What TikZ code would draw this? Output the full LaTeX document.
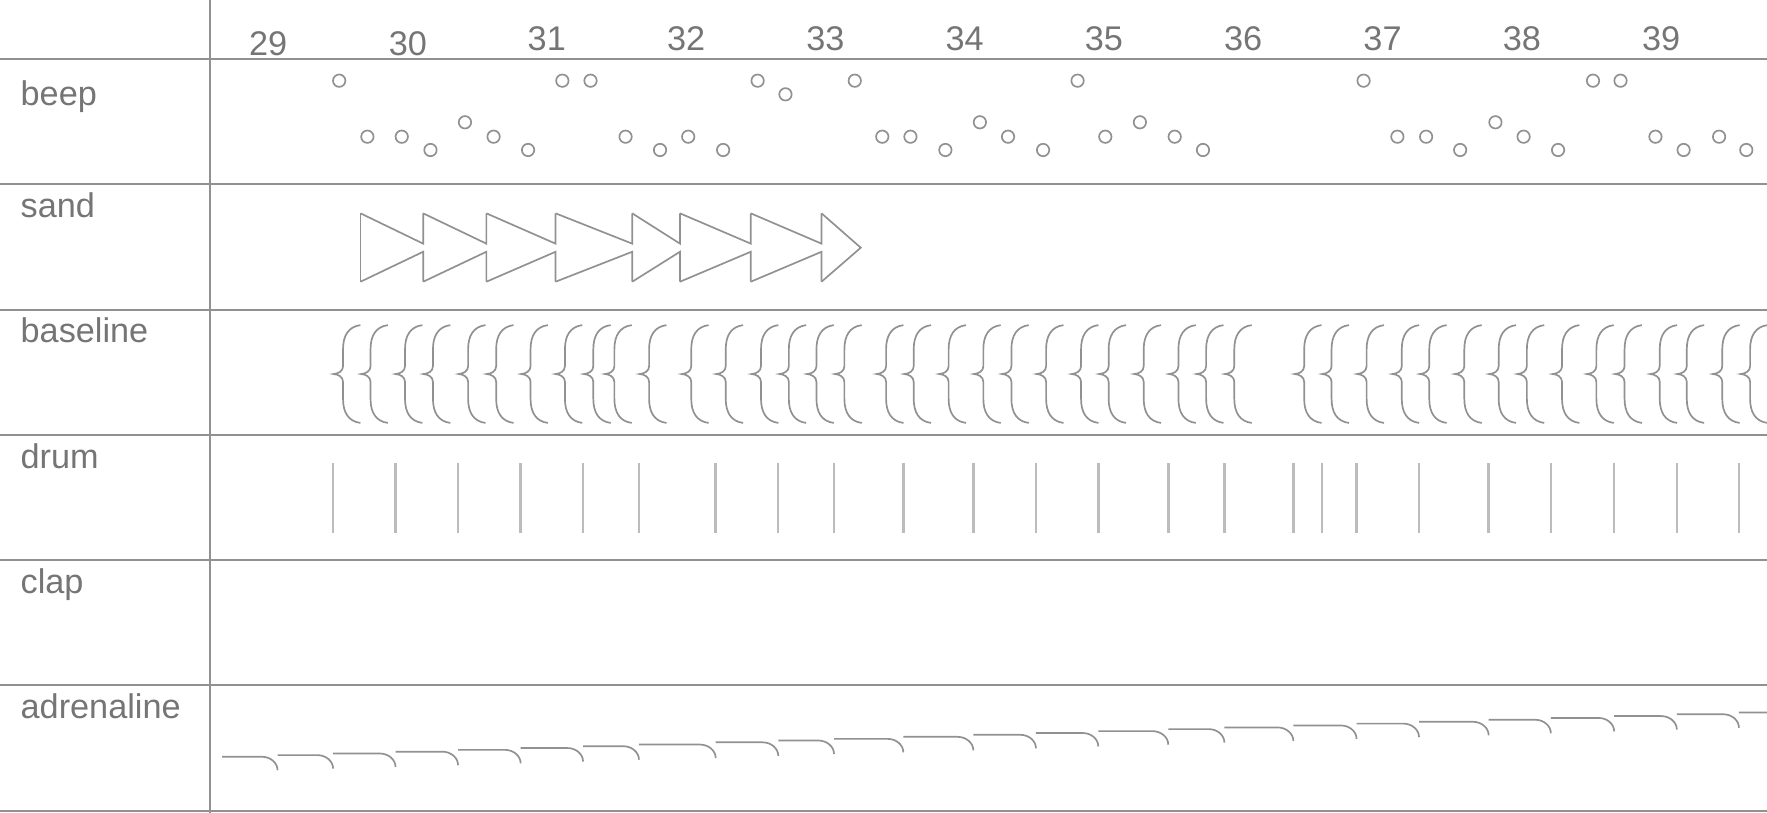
\documentclass[tikz,border=0pt]{standalone}
\usepackage{fontspec}
\setmainfont{Liberation Sans}
\definecolor{LineGray}{RGB}{145,145,145}
\definecolor{InkGray}{RGB}{145,145,145}
\definecolor{DrumGray}{RGB}{188,188,188}
\definecolor{TextGray}{RGB}{117,117,117}
\tikzset{
  gridline/.style={draw=LineGray,line width=1pt},
  shapeline/.style={draw=InkGray,line width=0.85pt},
  drumline/.style={draw=DrumGray,line width=1.25pt},
  rowlabel/.style={anchor=base west,inner sep=0pt,text=TextGray,
    font=\fontsize{17.3}{20}\selectfont},
  beatlabel/.style={anchor=base,inner sep=0pt,text=TextGray,
    font=\fontsize{17.3}{20}\selectfont},
  curlybrace/.pic={
    \draw[shapeline] (23.7,-43.4) .. controls (13,-42) and (8.3,-34) .. (8.3,-22)
      -- (8.3,-7) .. controls (8.3,-2.5) and (4,-0.3) .. (0,0)
      .. controls (4,0.3) and (8.3,2.5) .. (8.3,7) -- (8.3,22)
      .. controls (8.3,34) and (13,42) .. (23.7,43.4);
  }
}
\begin{document}
\begin{tikzpicture}[x=0.02cm,y=-0.02cm]
  \useasboundingbox (0,0) rectangle (1568,721);
  \clip (0,0) rectangle (1568,721);
  % grid
  \draw[gridline] (186,0) -- (186,721);
  \foreach \r in {0,...,6}{
    \pgfmathsetmacro\yr{52.4+111.17*\r}
    \draw[gridline] (0,\yr) -- (1568,\yr);
  }
  % beat numbers
  \node[beatlabel] (b29) at (238,48.8) {29};
  \node[beatlabel] (b30) at (362,48.8) {30};
  \foreach \n [count=\i from 2] in {31,...,39}
    \node[beatlabel] (b\n) at ({238+123.6*\i},44.4) {\n};
  % row names
  \node[rowlabel] (beep) at (18,94) {beep};
  \node[rowlabel] (sand) at (18,193.1) {sand};
  \node[rowlabel] (baseline) at (18,304.2) {baseline};
  \node[rowlabel] (drum) at (18,415.4) {drum};
  \node[rowlabel] (clap) at (18,526.6) {clap};
  \node[rowlabel] (adrenaline) at (18,637.7) {adrenaline};
  % beep
  \foreach \x in {301,499,524,672.3,758.5,956.2,1210,1413.6,1438}
    \draw[shapeline] (\x,71.6) circle[radius=5.5];
  \draw[shapeline] (697,83.7) circle[radius=5.5];
  \foreach \x in {412.6,869.5,1011.5,1327}
    \draw[shapeline] (\x,108.5) circle[radius=5.5];
  \foreach \x in {326,356.5,438,555.1,610.7,782.9,807.9,894.5,980.8,1042.4,1240,1265.5,1352,1469,1525.5}
    \draw[shapeline] (\x,121.3) circle[radius=5.5];
  \foreach \x in {382,468.6,585.7,641.7,838.9,925.6,1067.5,1295.7,1382.6,1494,1549.6}
    \draw[shapeline] (\x,133.1) circle[radius=5.5];
  % sand
  \draw[shapeline] (319.9,189.3) -- (319.9,250);
  \foreach \a/\b in {319.9/375.5,375.5/431.6,431.6/493,493/561,561/603.4,603.4/666.2,666.2/729}{
    \draw[shapeline] (\a,189.3) -- (\b,216.2) -- (\b,189.3);
    \draw[shapeline] (\a,250) -- (\b,223.4) -- (\b,250);
  }
  \draw[shapeline] (729,189.3) -- (763.8,219.8) -- (729,250);
  % baseline
  \foreach \x in {296.1,320.5,351.1,375.9,407.1,432,462.5,493,518.2,536.9,567.7,605.1,
      635.7,667,691.7,716.2,741,778,802.5,833.5,864.3,889.2,920,951,975.5,1006.6,
      1037.4,1062,1087,1149,1173.3,1204.4,1235.6,1260,1291.1,1321.6,1346.6,1377.8,
      1408.3,1433.3,1464.5,1488.5,1520,1544.7}
    \pic at (\x,331.9) {curlybrace};
  % drum
  \foreach \x in {295.6,351,406.5,462,517.4,567,635.1,690.6,740.1,801.6,863.7,919.3,
      974.6,1036.7,1086.5,1147.7,1173,1203.8,1259.2,1321,1376.2,1432.4,1488,1543.1}
    \draw[drumline] (\x,411.2) -- (\x,473.3);
  % adrenaline
  \foreach \a/\b in {197/246.3,246.3/295.6,295.6/351,351/406.5,406.5/462,462/517.4,
      517.4/567,567/635.1,635.1/690.6,690.6/740.1,740.1/801.6,801.6/863.7,863.7/919.3,
      919.3/974.6,974.6/1036.7,1036.7/1086.5,1086.5/1147.7,1147.7/1203.8,1203.8/1259.2,
      1259.2/1321,1321/1376.2,1376.2/1432.4,1432.4/1488,1488/1543.1,1543.1/1600}{
    \pgfmathsetmacro\ya{671.5-0.0292*(\a-197)}
    \draw[shapeline] (\a,\ya) -- ({\b-14},\ya) .. controls ({\b-6.3},\ya)
      and (\b,{\ya+5.4}) .. (\b,{\ya+12});
  }
\end{tikzpicture}
\end{document}
